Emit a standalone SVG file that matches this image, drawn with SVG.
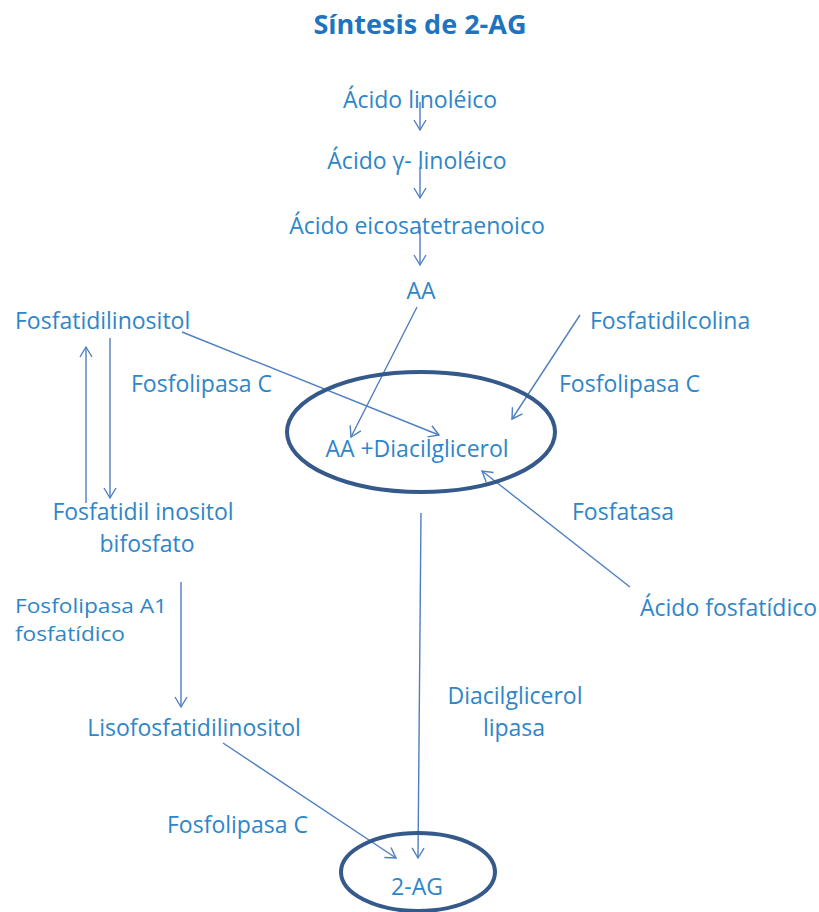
<svg xmlns="http://www.w3.org/2000/svg" width="819" height="912" viewBox="0 0 819 912">
  <style>
    .t { font-family: "Open Sans", "Noto Sans", "Liberation Sans", sans-serif; font-size: 23px; fill: #2e86c8; }
    .tight { font-size: 20px; }
    .title { font-family: "Open Sans", "Noto Sans", "Liberation Sans", sans-serif; font-size: 27px; font-weight: bold; fill: #1f74bf; }
    .c { text-anchor: middle; }
    .ln { stroke: #4f7fc0; stroke-width: 1.4; fill: none; marker-end: url(#arr); }
    .ell { stroke: #34598a; stroke-width: 4; fill: none; }
  </style>
  <defs>
    <marker id="arr" markerUnits="userSpaceOnUse" markerWidth="14" markerHeight="16" refX="11" refY="7" orient="auto">
      <path d="M1,1 L11,7 L1,13" fill="none" stroke="#4f7fc0" stroke-width="1.4"/>
    </marker>
  </defs>
  <rect width="819" height="912" fill="#ffffff"/>

  <text class="title c" x="420" y="34">Síntesis de 2-AG</text>

  <!-- connectors -->
  <g id="connectors">
    <line class="ln" x1="420" y1="102" x2="420" y2="130"/>
    <line class="ln" x1="420" y1="167" x2="420" y2="198"/>
    <line class="ln" x1="420" y1="227" x2="420" y2="265"/>
    <line class="ln" x1="86" y1="503" x2="86" y2="347"/>
    <line class="ln" x1="110" y1="338" x2="110" y2="498"/>
    <line class="ln" x1="182" y1="332" x2="439" y2="435"/>
    <line class="ln" x1="417" y1="307" x2="351" y2="437"/>
    <line class="ln" x1="580" y1="315" x2="512" y2="419"/>
    <line class="ln" x1="630" y1="587" x2="482" y2="471"/>
    <line class="ln" x1="181" y1="582" x2="181" y2="707"/>
    <line class="ln" x1="223" y1="743" x2="396" y2="858"/>
    <line class="ln" x1="421" y1="513" x2="418" y2="858"/>
  </g>

  <g id="n-linoleico"><text class="t c" x="420" y="108">Ácido linoléico</text></g>
  <g id="n-gamma"><text class="t c" x="417" y="169">Ácido γ- linoléico</text></g>
  <g id="n-eicosa"><text class="t c" x="417" y="234">Ácido eicosatetraenoico</text></g>
  <g id="n-aa"><text class="t c" x="421" y="299">AA</text></g>

  <g id="n-fosfatidilinositol"><text class="t" x="15" y="329">Fosfatidilinositol</text></g>
  <g id="n-fosfatidilcolina"><text class="t" x="590" y="329">Fosfatidilcolina</text></g>
  <g id="l-plc-left"><text class="t" x="131" y="392">Fosfolipasa C</text></g>
  <g id="l-plc-right"><text class="t" x="559" y="392">Fosfolipasa C</text></g>

  <g id="n-aa-dag">
    <ellipse class="ell" cx="421" cy="432" rx="134" ry="60"/>
    <text class="t c" x="417" y="457">AA +Diacilglicerol</text>
  </g>

  <g id="l-fosfatasa"><text class="t" x="572" y="520">Fosfatasa</text></g>
  <g id="n-pip2">
    <text class="t c" x="143" y="520">Fosfatidil inositol</text>
    <text class="t c" x="147" y="552">bifosfato</text>
  </g>
  <g id="n-acido-fosfatidico"><text class="t" x="640" y="616">Ácido fosfatídico</text></g>
  <g id="l-pla1">
    <text class="t tight" x="15" y="613" textLength="152" lengthAdjust="spacingAndGlyphs">Fosfolipasa A1</text>
    <text class="t tight" x="15" y="641" textLength="110" lengthAdjust="spacingAndGlyphs">fosfatídico</text>
  </g>
  <g id="l-dagl">
    <text class="t c" x="515" y="704">Diacilglicerol</text>
    <text class="t c" x="514" y="736">lipasa</text>
  </g>
  <g id="n-lisofosfatidilinositol"><text class="t c" x="194" y="736">Lisofosfatidilinositol</text></g>
  <g id="l-plc-bottom"><text class="t" x="167" y="833">Fosfolipasa C</text></g>

  <g id="n-2ag">
    <ellipse class="ell" cx="418" cy="872" rx="77" ry="39"/>
    <text class="t c" x="417" y="895">2-AG</text>
  </g>
</svg>
